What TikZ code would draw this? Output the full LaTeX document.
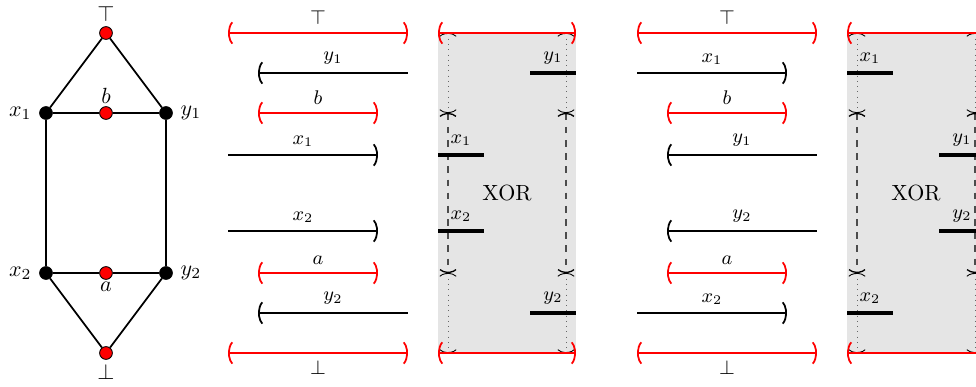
\documentclass[tikz,border=0pt]{standalone}
\usepackage{amsmath,amssymb}
\usepackage{tikz}
\usetikzlibrary{arrows.meta, positioning}

\begin{document}
\begin{tikzpicture}[x=0.64cm, y=0.64cm,
  pr/.tip={Parenthesis[width=12pt, length=3.5pt]},
  sp/.tip={Parenthesis[width=9pt, length=2.8pt, black]},
  vtx/.style={circle, draw, fill=black, inner sep=0pt, minimum size=5.8pt},
  rvtx/.style={vtx, fill=red},
  edge/.style={thick},
  both/.style={thick, red, pr-pr},
  lopen/.style={thick, pr-},
  ropen/.style={thick, -pr},
  bar/.style={line width=1.6pt},
  lab/.style={midway, above, font=\small, text=black},
  dotline/.style={gray!80!black, dotted, sp-sp},
  dashline/.style={gray!60!black, dashed, semithick, sp-sp},
  xorbox/.style={fill=gray!20}
]
  \useasboundingbox (-1.15,-0.85) rectangle (23.25,8.825);

  % lattice
  \node[rvtx, label={[inner sep=2pt]above:$\top$}] (top) at (1.5,8) {};
  \node[vtx, label={left:$x_1$}] (x1) at (0,6) {};
  \node[rvtx, label={[inner sep=1pt]above:$b$}] (b) at (1.5,6) {};
  \node[vtx, label={right:$y_1$}] (y1) at (3,6) {};
  \node[vtx, label={left:$x_2$}] (x2) at (0,2) {};
  \node[rvtx, label={[inner sep=1pt]below:$a$}] (a) at (1.5,2) {};
  \node[vtx, label={right:$y_2$}] (y2) at (3,2) {};
  \node[rvtx, label={[inner sep=2pt]below:$\bot$}] (bot) at (1.5,0) {};

  \draw[edge] (top) -- (x1) (top) -- (y1);
  \draw[edge] (x1) -- (b) -- (y1);
  \draw[edge] (x1) -- (x2) (y1) -- (y2);
  \draw[edge] (x2) -- (a) -- (y2);
  \draw[edge] (x2) -- (bot) (y2) -- (bot);

  % first interval representation
  \draw[both] (4.55,8) -- node[lab] (mtop) {$\top$} (9.05,8);
  \draw[lopen] (5.3,7) -- node[lab] (my1) {$y_1$} (9.05,7);
  \draw[both] (5.3,6) -- node[lab] (mb) {$b$} (8.3,6);
  \draw[ropen] (4.55,4.95) -- node[lab] (mx1) {$x_1$} (8.3,4.95);
  \draw[ropen] (4.55,3.05) -- node[lab] (mx2) {$x_2$} (8.3,3.05);
  \draw[both] (5.3,2) -- node[lab] (ma) {$a$} (8.3,2);
  \draw[lopen] (5.3,1) -- node[lab] (my2) {$y_2$} (9.05,1);
  \draw[both] (4.55,0) -- node[lab, below] (mbot) {$\bot$} (9.05,0);

  \fill[xorbox] (9.8,0) rectangle (13.25,8);
  \foreach \xx in {10.05,13.0} {
    \draw[dotline] (\xx,8) -- (\xx,6);
    \draw[dashline] (\xx,6) -- (\xx,2);
    \draw[dotline] (\xx,2) -- (\xx,0);
  }
  \draw[both] (9.8,8) -- (13.25,8);
  \draw[both] (9.8,0) -- (13.25,0);
  \draw[bar] (12.1,7) -- node[lab] (by1) {$y_1$} (13.25,7);
  \draw[bar] (9.8,4.95) -- node[lab] (bx1) {$x_1$} (10.95,4.95);
  \draw[bar] (9.8,3.05) -- node[lab] (bx2) {$x_2$} (10.95,3.05);
  \draw[bar] (12.1,1) -- node[lab] (by2) {$y_2$} (13.25,1);
  \node (xorA) at (11.525,4) {XOR};

  % second interval representation
  \begin{scope}[shift={(10.225,0)}]
    \draw[both] (4.55,8) -- node[lab] (rtop) {$\top$} (9.05,8);
    \draw[ropen] (4.55,7) -- node[lab] (rx1) {$x_1$} (8.3,7);
    \draw[both] (5.3,6) -- node[lab] (rb) {$b$} (8.3,6);
    \draw[lopen] (5.3,4.95) -- node[lab] (ry1) {$y_1$} (9.05,4.95);
    \draw[lopen] (5.3,3.05) -- node[lab] (ry2) {$y_2$} (9.05,3.05);
    \draw[both] (5.3,2) -- node[lab] (ra) {$a$} (8.3,2);
    \draw[ropen] (4.55,1) -- node[lab] (rx2) {$x_2$} (8.3,1);
    \draw[both] (4.55,0) -- node[lab, below] (rbot) {$\bot$} (9.05,0);

    \fill[xorbox] (9.8,0) rectangle (13.25,8);
    \foreach \xx in {10.05,13.0} {
      \draw[dotline] (\xx,8) -- (\xx,6);
      \draw[dashline] (\xx,6) -- (\xx,2);
      \draw[dotline] (\xx,2) -- (\xx,0);
    }
    \draw[both] (9.8,8) -- (13.25,8);
    \draw[both] (9.8,0) -- (13.25,0);
    \draw[bar] (9.8,7) -- node[lab] (cx1) {$x_1$} (10.95,7);
    \draw[bar] (12.1,4.95) -- node[lab] (cy1) {$y_1$} (13.25,4.95);
    \draw[bar] (12.1,3.05) -- node[lab] (cy2) {$y_2$} (13.25,3.05);
    \draw[bar] (9.8,1) -- node[lab] (cx2) {$x_2$} (10.95,1);
    \node (xorB) at (11.525,4) {XOR};
  \end{scope}
\end{tikzpicture}
\end{document}
